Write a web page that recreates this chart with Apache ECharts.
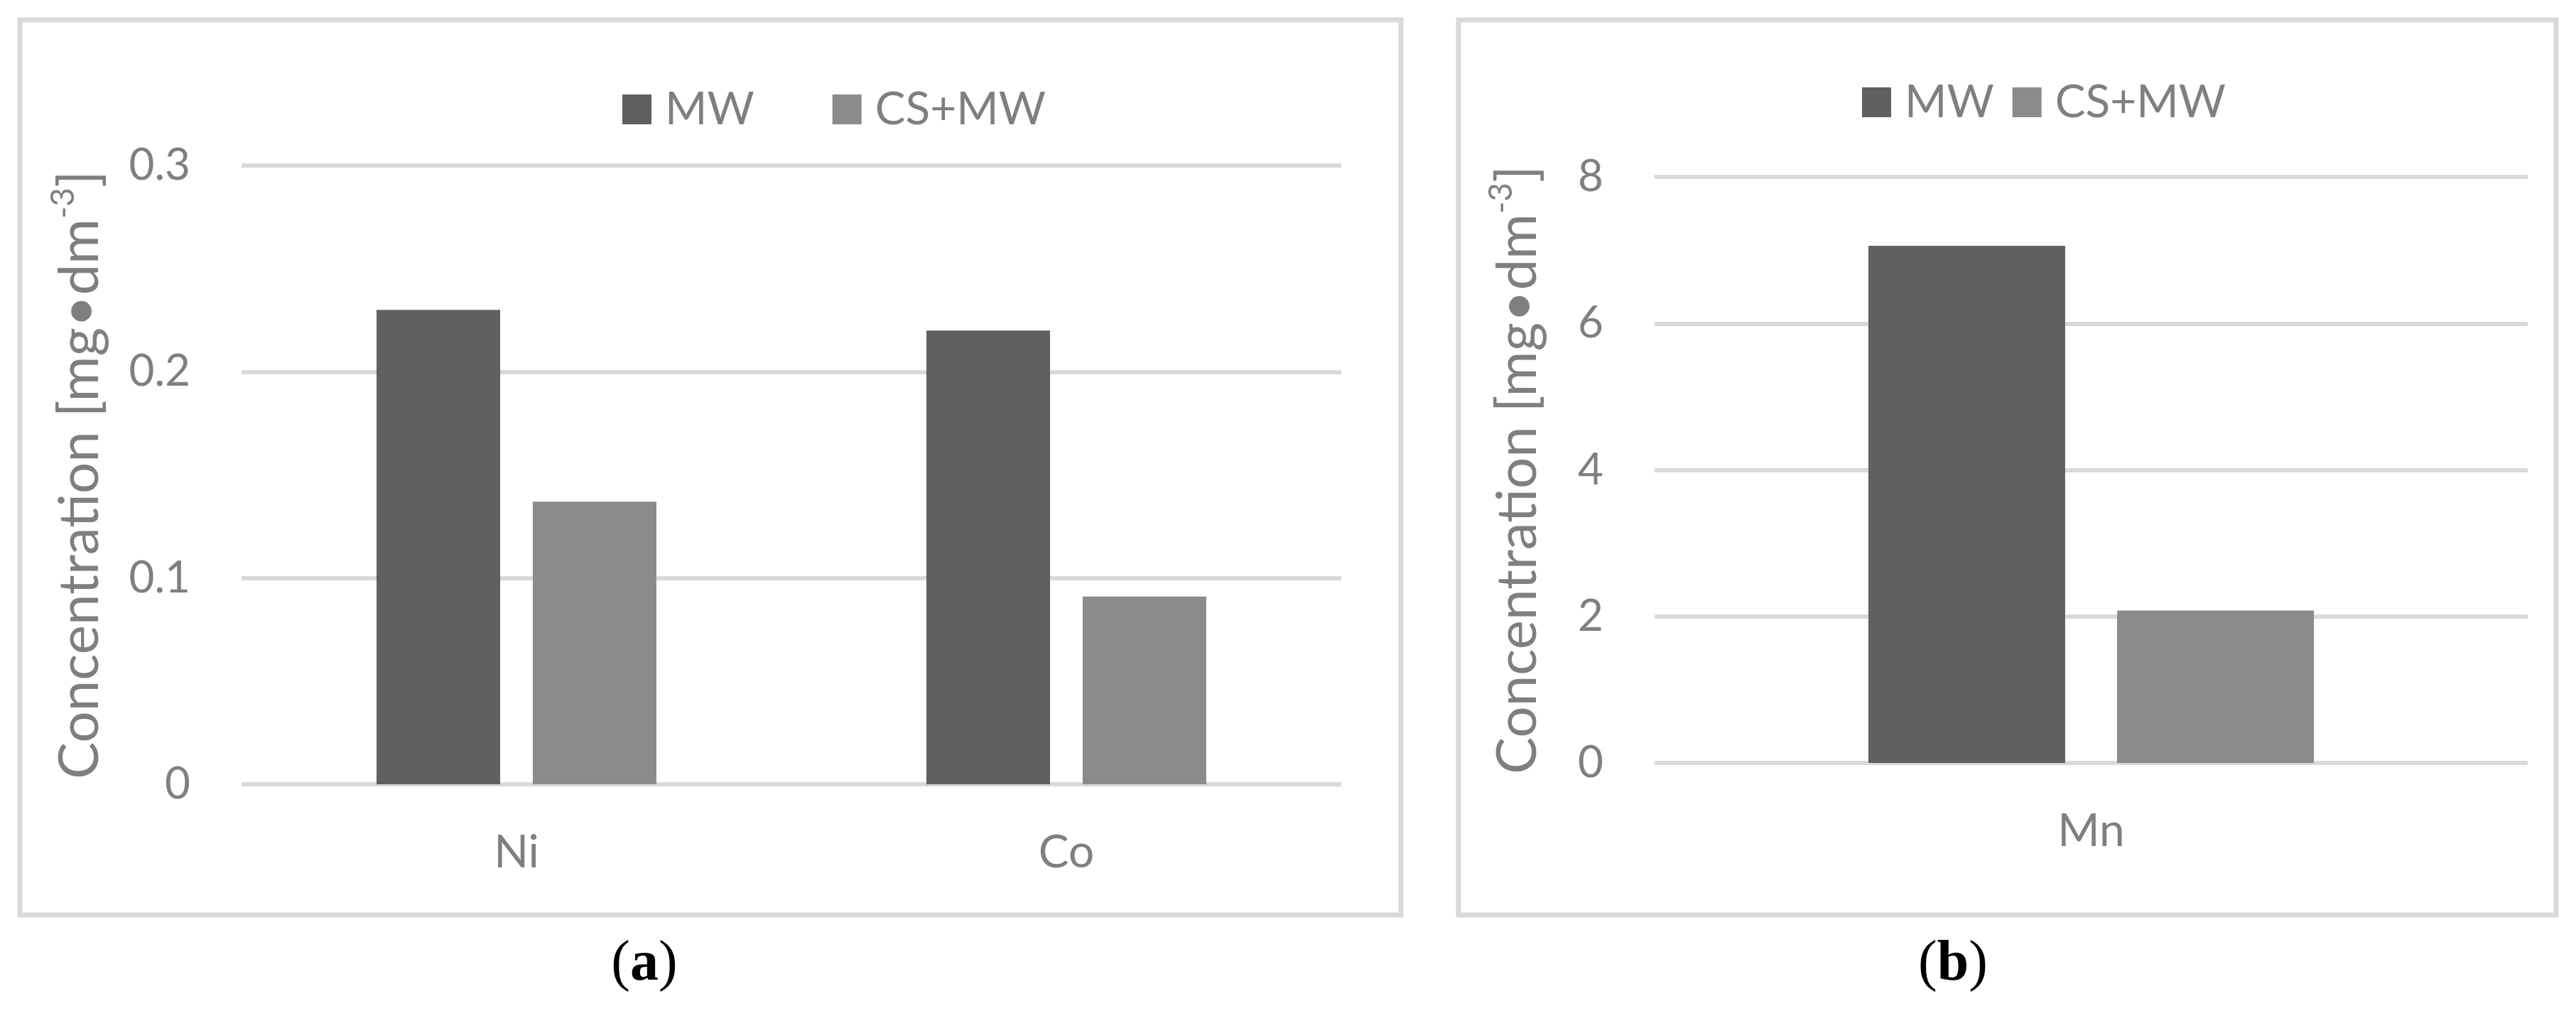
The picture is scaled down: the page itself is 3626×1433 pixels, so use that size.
<!DOCTYPE html>
<html>
<head>
<meta charset="utf-8">
<script src="https://cdn.jsdelivr.net/npm/echarts@6/dist/echarts.min.js"></script>
<style>
html,body{margin:0;padding:0;background:#fff;}
#c{width:3626px;height:1433px;}
</style>
</head>
<body>
<div id="c"></div>
<script>
// Data
var seriesNames = ['MW', 'CS+MW'];
var categoriesA = ['Ni', 'Co'];
var mwA = [0.230, 0.220];
var csmwA = [0.137, 0.091];
var yTicksA = [0, 0.1, 0.2, 0.3];
var categoriesB = ['Mn'];
var mwB = [7.06];
var csmwB = [2.08];
var yTicksB = [0, 2, 4, 6, 8];

var FONT = 'Lato';
var TXT = '#7f7f7f';
var GRID = '#d9d9d9';
var C1 = '#606060';
var C2 = '#8b8b8b';

var chart = echarts.init(document.getElementById('c'), null, {renderer: 'canvas'});

function yAxis(gi, ticks, gap) {
  return {
    type: 'value', gridIndex: gi,
    min: ticks[0], max: ticks[ticks.length - 1], interval: ticks[1] - ticks[0],
    axisLine: {show: false}, axisTick: {show: false},
    splitLine: {lineStyle: {color: GRID, width: 6}},
    axisLabel: {color: TXT, fontFamily: FONT, fontSize: 62, margin: 72},
    name: '{n|Concentration [mg\u2022dm}{s|-3}{n|]}',
    nameLocation: 'middle', nameRotate: 90, nameGap: gap,
    nameTextStyle: {
      rich: {
        n: {fontFamily: FONT, fontSize: 78, color: TXT, lineHeight: 94},
        s: {fontFamily: FONT, fontSize: 46, color: TXT, verticalAlign: 'top', lineHeight: 94}
      }
    }
  };
}
function xAxis(gi, cats) {
  return {
    type: 'category', gridIndex: gi, data: cats,
    axisLine: {show: false}, axisTick: {show: false},
    axisLabel: {color: TXT, fontFamily: FONT, fontSize: 64, margin: 64}
  };
}
function legend(left, top, gap) {
  return {
    data: seriesNames, left: left, top: top, padding: 0,
    icon: 'rect', itemWidth: 41, itemHeight: 42, itemGap: gap,
    textStyle: {color: TXT, fontFamily: FONT, fontSize: 64, padding: [0, 0, 0, 14]},
    selectedMode: false
  };
}

var option = {
  animation: false,
  backgroundColor: '#fff',
  legend: [legend(876, 122, 110), legend(2621, 112, 26)],
  grid: [
    {left: 340, top: 233, width: 1548, height: 871},
    {left: 2329, top: 249, width: 1229, height: 825}
  ],
  xAxis: [xAxis(0, categoriesA), xAxis(1, categoriesB)],
  yAxis: [yAxis(0, yTicksA, 180), yAxis(1, yTicksB, 145)],
  series: [
    {name: seriesNames[0], type: 'bar', xAxisIndex: 0, yAxisIndex: 0, data: mwA, barWidth: 174, barGap: '26.4%', itemStyle: {color: C1}},
    {name: seriesNames[1], type: 'bar', xAxisIndex: 0, yAxisIndex: 0, data: csmwA, barWidth: 174, barGap: '26.4%', itemStyle: {color: C2}},
    {name: seriesNames[0], type: 'bar', xAxisIndex: 1, yAxisIndex: 1, data: mwB, barWidth: 277, barGap: '26.4%', itemStyle: {color: C1}},
    {name: seriesNames[1], type: 'bar', xAxisIndex: 1, yAxisIndex: 1, data: csmwB, barWidth: 277, barGap: '26.4%', itemStyle: {color: C2}}
  ],
  graphic: [
    {type: 'rect', shape: {x: 28, y: 28, width: 1944, height: 1260}, style: {fill: 'none', stroke: GRID, lineWidth: 7}, z: -1},
    {type: 'rect', shape: {x: 2053, y: 28, width: 1545, height: 1260}, style: {fill: 'none', stroke: GRID, lineWidth: 7}, z: -1},
    {type: 'text', x: 907, y: 1358, style: {text: '{p|(}{b|a}{p|)}', align: 'center', verticalAlign: 'middle',
      rich: {p: {fontFamily: 'Liberation Serif', fontSize: 80, fill: '#000'}, b: {fontFamily: 'Liberation Serif', fontWeight: 'bold', fontSize: 80, fill: '#000'}}}},
    {type: 'text', x: 2749, y: 1358, style: {text: '{p|(}{b|b}{p|)}', align: 'center', verticalAlign: 'middle',
      rich: {p: {fontFamily: 'Liberation Serif', fontSize: 80, fill: '#000'}, b: {fontFamily: 'Liberation Serif', fontWeight: 'bold', fontSize: 80, fill: '#000'}}}}
  ]
};
chart.setOption(option);
</script>
</body>
</html>
